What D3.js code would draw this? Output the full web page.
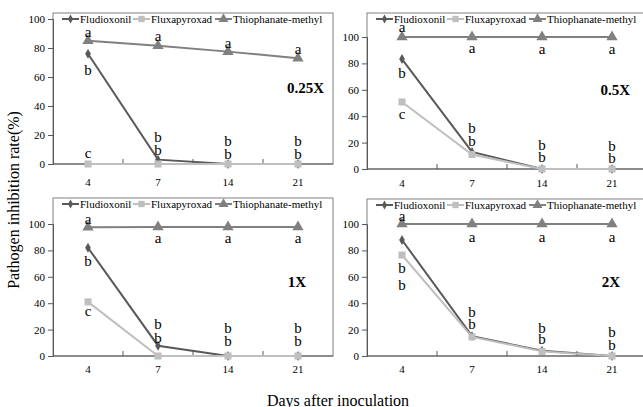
<!DOCTYPE html>
<html>
<head>
<meta charset="utf-8">
<script src="https://cdn.jsdelivr.net/npm/d3@7"></script>
<style>
  body { margin: 0; background: #fff; }
  svg text { font-family: "Liberation Serif", "Times New Roman", serif; }
</style>
</head>
<body>
<svg id="vis-svg"></svg>
<script>
// x categories and series
var days = ["4", "7", "14", "21"];
var seriesNames = ["Fludioxonil", "Fluxapyroxad", "Thiophanate-methyl"];
var yTicks = [0, 20, 40, 60, 80, 100];

// values per dose (Fludioxonil, Fluxapyroxad, Thiophanate-methyl)
var fludioxonil025 = [76, 3, 0, 0];
var fluxapyroxad025 = [0, 0, 0, 0];
var thiophanate025 = [85, 81.5, 77.5, 73];

var fludioxonil05 = [83.3, 12.9, 0, 0];
var fluxapyroxad05 = [50.8, 11, 0, 0];
var thiophanate05 = [100, 100, 100, 100];

var fludioxonil1 = [82, 7.8, 0, 0];
var fluxapyroxad1 = [41, 0, 0, 0];
var thiophanate1 = [97.5, 97.8, 97.8, 97.8];

var fludioxonil2 = [87.9, 15, 4, 0];
var fluxapyroxad2 = [76.5, 14.5, 3.5, 0];
var thiophanate2 = [100, 100, 100, 100];

// significance letters for each day: [letter, value where it sits]
var letters025 = [
  [["a", 91], ["b", 65], ["c", 7.6]],
  [["a", 88], ["b", 18.6], ["b", 9.7]],
  [["a", 83.4], ["b", 16], ["b", 7]],
  [["a", 79], ["b", 16], ["b", 7]]
];
var letters05 = [
  [["a", 107.5], ["b", 72.7], ["c", 42]],
  [["a", 91.6], ["b", 31], ["b", 21]],
  [["a", 91], ["b", 18], ["b", 9]],
  [["a", 91], ["b", 17.4], ["b", 8.3]]
];
var letters1 = [
  [["a", 104], ["b", 72], ["c", 34]],
  [["a", 89.6], ["b", 24], ["b", 13.6]],
  [["a", 89.6], ["b", 21], ["b", 11.6]],
  [["a", 89.6], ["b", 21], ["b", 11.6]]
];
var letters2 = [
  [["a", 106], ["b", 66.4], ["b", 53.8]],
  [["a", 90.4], ["b", 33.6], ["b", 24]],
  [["a", 90.4], ["b", 21.5], ["b", 12.6]],
  [["a", 90.4], ["b", 18.4], ["b", 8.3]]
];

var colors = ["#595959", "#bfbfbf", "#808080"];
var markers = [d3.symbolDiamond, d3.symbolSquare, d3.symbolTriangle];
var markerSizes = [28, 50, 55];

var width = 643;
var height = 407;

var svg = d3.select('#vis-svg')
  .attr('width', width)
  .attr('height', height);

// panel layout
var panels = [
  {dose: "0.25X", series: [fludioxonil025, fluxapyroxad025, thiophanate025], letters: letters025,
   left: 53, top: 13, y0: 164, y100: 19, labelY: 186, doseX: 324, doseY: 88},
  {dose: "0.5X", series: [fludioxonil05, fluxapyroxad05, thiophanate05], letters: letters05,
   left: 367, top: 13, y0: 169, y100: 37, labelY: 187, doseX: 630, doseY: 90},
  {dose: "1X", series: [fludioxonil1, fluxapyroxad1, thiophanate1], letters: letters1,
   left: 53, top: 198, y0: 356, y100: 224, labelY: 373, doseX: 306, doseY: 282},
  {dose: "2X", series: [fludioxonil2, fluxapyroxad2, thiophanate2], letters: letters2,
   left: 367, top: 199, y0: 356, y100: 224, labelY: 373, doseX: 620, doseY: 282}
];

function drawPanel(p) {
  var g = svg.append('g');
  var plotWidth = 280;

  var xScale = d3.scaleBand()
    .domain(days)
    .range([p.left, p.left + plotWidth]);
  var xc = function(d) { return xScale(d) + xScale.bandwidth() / 2; };

  var yScale = d3.scaleLinear()
    .domain([0, 100])
    .range([p.y0, p.y100]);

  // frame
  g.append('rect')
    .attr('x', p.left)
    .attr('y', p.top)
    .attr('width', plotWidth)
    .attr('height', p.y0 - p.top)
    .attr('fill', 'none')
    .attr('stroke', '#808080')
    .attr('stroke-width', 1);

  // y axis
  var yAxis = g.append('g')
    .attr('transform', `translate(${p.left},0)`)
    .call(d3.axisLeft(yScale).tickValues(yTicks).tickSize(5).tickPadding(3));
  yAxis.select('.domain').attr('stroke', '#595959');
  yAxis.selectAll('.tick line').attr('stroke', '#595959');
  yAxis.selectAll('text')
    .attr('font-size', 11)
    .attr('fill', '#000');

  // x axis
  g.append('line')
    .attr('x1', p.left).attr('x2', p.left + plotWidth)
    .attr('y1', p.y0).attr('y2', p.y0)
    .attr('stroke', '#595959');
  g.selectAll('.xtick')
    .data(days.slice(1))
    .enter()
    .append('line')
    .attr('x1', function(d) { return xScale(d); })
    .attr('x2', function(d) { return xScale(d); })
    .attr('y1', p.y0).attr('y2', p.y0 - 5)
    .attr('stroke', '#595959');
  g.selectAll('.xlabel')
    .data(days)
    .enter()
    .append('text')
    .attr('x', xc)
    .attr('y', p.labelY)
    .attr('text-anchor', 'middle')
    .attr('font-size', 11)
    .text(function(d) { return d; });

  // lines and markers
  var line = d3.line()
    .x(function(d, i) { return xc(days[i]); })
    .y(function(d) { return yScale(d); });

  p.series.forEach(function(values, s) {
    g.append('path')
      .datum(values)
      .attr('d', line)
      .attr('fill', 'none')
      .attr('stroke', colors[s])
      .attr('stroke-width', 2);
    g.selectAll('.m' + s)
      .data(values)
      .enter()
      .append('path')
      .attr('d', d3.symbol().type(markers[s]).size(markerSizes[s]))
      .attr('transform', function(d, i) {
        return `translate(${xc(days[i])},${yScale(d)})`;
      })
      .attr('fill', colors[s]);
  });

  // significance letters
  p.letters.forEach(function(group, i) {
    g.selectAll('.l' + i)
      .data(group)
      .enter()
      .append('text')
      .attr('x', xc(days[i]))
      .attr('y', function(d) { return yScale(d[1]); })
      .attr('text-anchor', 'middle')
      .attr('dominant-baseline', 'central')
      .attr('font-size', 15)
      .text(function(d) { return d[0]; });
  });

  // legend
  var legendX = [9, 80, 162];
  var legendY = p.top + 6;
  seriesNames.forEach(function(name, s) {
    var lx = p.left + legendX[s];
    g.append('line')
      .attr('x1', lx).attr('x2', lx + 17)
      .attr('y1', legendY).attr('y2', legendY)
      .attr('stroke', colors[s])
      .attr('stroke-width', 2);
    g.append('path')
      .attr('d', d3.symbol().type(markers[s]).size(markerSizes[s] * 0.8))
      .attr('transform', `translate(${lx + 8.5},${legendY})`)
      .attr('fill', colors[s]);
    g.append('text')
      .attr('x', lx + 18)
      .attr('y', legendY)
      .attr('dominant-baseline', 'central')
      .attr('font-size', 11)
      .text(name);
  });

  // dose label
  g.append('text')
    .attr('x', p.doseX)
    .attr('y', p.doseY)
    .attr('text-anchor', 'end')
    .attr('dominant-baseline', 'central')
    .attr('font-size', 15)
    .attr('font-weight', 'bold')
    .text(p.dose);
}

panels.forEach(drawPanel);

// axis titles
svg.append('text')
  .attr('transform', 'translate(13,200) rotate(-90)')
  .attr('text-anchor', 'middle')
  .attr('dominant-baseline', 'central')
  .attr('font-size', 16)
  .text('Pathogen inhibition rate(%)');

svg.append('text')
  .attr('x', 338)
  .attr('y', 400)
  .attr('text-anchor', 'middle')
  .attr('dominant-baseline', 'central')
  .attr('font-size', 16)
  .text('Days after inoculation');
</script>
</body>
</html>
